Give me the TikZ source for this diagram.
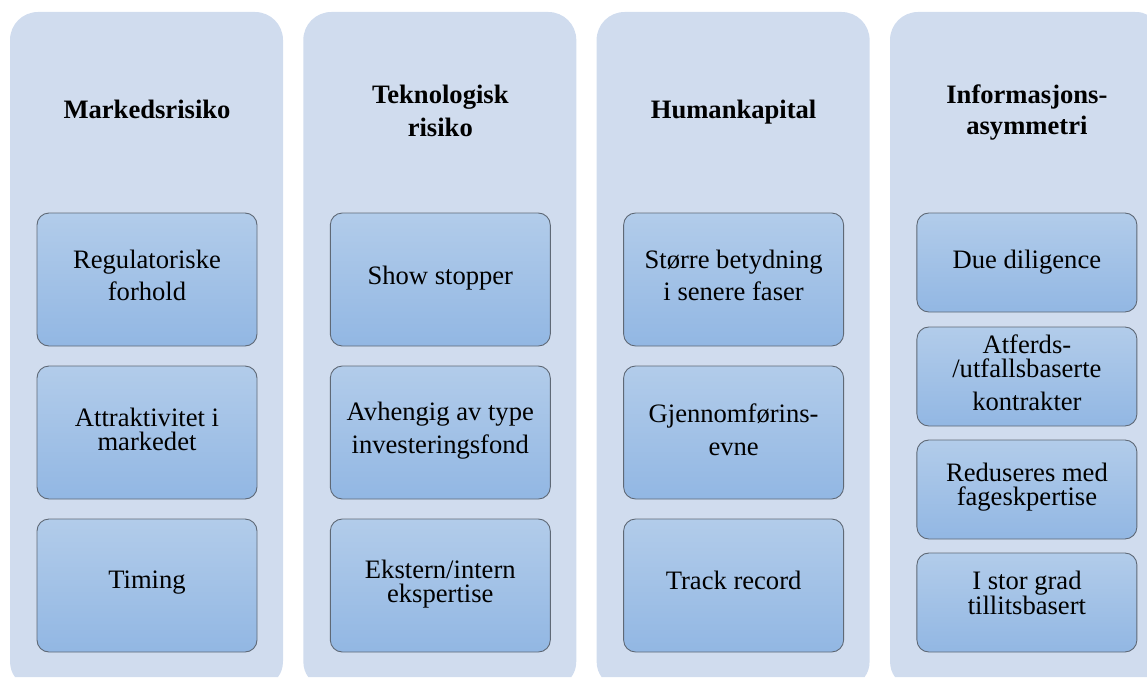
\documentclass[tikz,border=0pt]{standalone}
\usepackage{fontspec}
\setmainfont{Liberation Serif}
\definecolor{colbgc}{RGB}{208,220,238}
\definecolor{boxtop}{RGB}{178,204,234}
\definecolor{boxbot}{RGB}{146,183,227}
\definecolor{boxline}{RGB}{95,105,118}
\tikzset{
  itembox/.style={rectangle, rounded corners=12pt, draw=boxline, line width=0.9pt, top color=boxtop, bottom color=boxbot, minimum width=220pt, inner sep=0pt},
  itemtext/.style={anchor=north, inner sep=0pt, align=center, font=\fontsize{26.6}{#1}\selectfont},
  titletext/.style={anchor=north, inner sep=0pt, align=center, font=\fontsize{26.6}{#1}\selectfont\bfseries}
}
\newcommand\mycolshape[2]{\fill[colbgc] ({#1+5},677) .. controls ({#1+2},673) and (#1,668) .. (#1,661) -- (#1,40) .. controls (#1,24.5) and ({#1+12.5},12) .. ({#1+28},12) -- ({#2-28},12) .. controls ({#2-12.5},12) and (#2,24.5) .. (#2,40) -- (#2,661) .. controls (#2,668) and ({#2-2},673) .. ({#2-5},677) -- cycle;}
\begin{document}
\begin{tikzpicture}[x=1pt,y=-1pt]
\useasboundingbox (0,0) rectangle (1147,677);
% column backgrounds
\mycolshape{10}{283}
\mycolshape{303.3}{576.3}
\mycolshape{596.6}{869.6}
\fill[colbgc] (895,677) .. controls (892,673) and (890,668) .. (890,661) -- (890,40) .. controls (890,24.5) and (902.5,12) .. (918,12) -- (1135,12) .. controls (1141,12) and (1144,13) .. (1147,14.7) -- (1147,677) -- cycle;
% titles
\node[titletext=33] (h1) at (147,100) {Markedsrisiko};
\node[titletext=33] (h2) at (440.3,85) {Teknologisk\\risiko};
\node[titletext=33] (h3) at (733.6,100) {Humankapital};
\node[titletext=31] (h4) at (1026.9,85) {Informasjons-\\asymmetri};
% column 1
\node[itembox, minimum height=133pt] (b11) at (147,279.5) {};
\node[itembox, minimum height=133pt] (b12) at (147,432.5) {};
\node[itembox, minimum height=133pt] (b13) at (147,585.5) {};
\node[itemtext=32] (t11) at (147,250) {Regulatoriske\\forhold};
\node[itemtext=24] (t12) at (147,408) {Attraktivitet i\\markedet};
\node[itemtext=24] (t13) at (147,571) {Timing};
% column 2
\node[itembox, minimum height=133pt] (b21) at (440.3,279.5) {};
\node[itembox, minimum height=133pt] (b22) at (440.3,432.5) {};
\node[itembox, minimum height=133pt] (b23) at (440.3,585.5) {};
\node[itemtext=24] (t21) at (440.3,266) {Show stopper};
\node[itemtext=33] (t22) at (440.3,402) {Avhengig av type\\investeringsfond};
\node[itemtext=24] (t23) at (440.3,560) {Ekstern/intern\\ekspertise};
% column 3
\node[itembox, minimum height=133pt] (b31) at (733.6,279.5) {};
\node[itembox, minimum height=133pt] (b32) at (733.6,432.5) {};
\node[itembox, minimum height=133pt] (b33) at (733.6,585.5) {};
\node[itemtext=32] (t31) at (733.6,250) {Større betydning\\i senere faser};
\node[itemtext=33] (t32) at (733.6,404) {Gjennomførins-\\evne};
\node[itemtext=24] (t33) at (733.6,571) {Track record};
% column 4
\node[itembox, minimum height=99pt] (b41) at (1026.9,262.5) {};
\node[itembox, minimum height=99pt] (b42) at (1026.9,376.5) {};
\node[itembox, minimum height=99pt] (b43) at (1026.9,489.5) {};
\node[itembox, minimum height=99pt] (b44) at (1026.9,602.5) {};
\node[itemtext=24] (t41) at (1026.9,250) {Due diligence};
\node[itemtext=24] (t42) at (1026.9,335) {Atferds-\\/utfallsbaserte\\[9pt]kontrakter};
\node[itemtext=24] (t43) at (1026.9,463) {Reduseres med\\fageskpertise};
\node[itemtext=23] (t44) at (1026.9,571) {I stor grad\\tillitsbasert};
\end{tikzpicture}
\end{document}
